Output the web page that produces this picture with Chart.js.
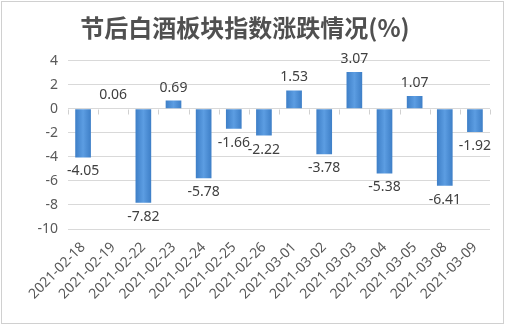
<!DOCTYPE html>
<html>
<head>
<meta charset="utf-8">
<script src="https://cdn.jsdelivr.net/npm/chart.js@4"></script>
<style>
  html, body { margin: 0; padding: 0; background: #fff; }
</style>
</head>
<body>
<canvas id="bar-chart" width="505" height="325"></canvas>
<script>
var dates = ['2021-02-18', '2021-02-19', '2021-02-22', '2021-02-23', '2021-02-24', '2021-02-25', '2021-02-26',
             '2021-03-01', '2021-03-02', '2021-03-03', '2021-03-04', '2021-03-05', '2021-03-08', '2021-03-09'];
var changes = [-4.05, 0.06, -7.82, 0.69, -5.78, -1.66, -2.22, 1.53, -3.78, 3.07, -5.38, 1.07, -6.41, -1.92];
var yTicks = [4, 2, 0, -2, -4, -6, -8, -10];

// sfondo bianco + cornice grigia
var frame = {
    id: 'frame',
    beforeDraw: function(chart) {
        var c = chart.ctx;
        c.save();
        c.fillStyle = '#fff';
        c.fillRect(0, 0, chart.width, chart.height);
        c.strokeStyle = '#d0d0d0';
        c.lineWidth = 1;
        c.strokeRect(1.5, 1.5, chart.width - 3, chart.height - 3);
        c.restore();
    }
};

// tacche sull'asse dello zero, tra una categoria e l'altra
var zeroTicks = {
    id: 'zeroTicks',
    beforeDatasetsDraw: function(chart) {
        var c = chart.ctx;
        var xs = chart.scales.x;
        var y0 = Math.round(chart.scales.y.getPixelForValue(0)) + 0.5;
        var step = (xs.right - xs.left) / dates.length;
        c.save();
        c.strokeStyle = '#d0d0d0';
        c.lineWidth = 1;
        c.beginPath();
        for (var i = 0; i <= dates.length; i++) {
            var x = Math.round(xs.left + i * step) + 0.5;
            c.moveTo(x, y0);
            c.lineTo(x, y0 + 5);
        }
        c.stroke();
        c.restore();
    }
};

// etichette dei valori sopra/sotto le barre
var valueLabels = {
    id: 'valueLabels',
    afterDatasetsDraw: function(chart) {
        var c = chart.ctx;
        var meta = chart.getDatasetMeta(0);
        c.save();
        c.font = '14px "Noto Sans", sans-serif';
        c.fillStyle = '#404040';
        c.textAlign = 'center';
        meta.data.forEach(function(bar, i) {
            var v = changes[i];
            if (v >= 0) {
                c.textBaseline = 'bottom';
                c.fillText(v.toFixed(2), bar.x, bar.y - 6);
            } else {
                c.textBaseline = 'top';
                c.fillText(v.toFixed(2), bar.x, bar.y + 7);
            }
        });
        c.restore();
    }
};

var ctx = document.getElementById('bar-chart');
var chart = new Chart(ctx, {
    type: 'bar',
    data: {
        labels: dates,
        datasets: [{
            label: '涨跌幅',
            data: changes,
            backgroundColor: function(context) {
                var ch = context.chart;
                var xs = ch.scales && ch.scales.x;
                if (!ch.chartArea || !xs) return '#4a8fd6';
                var cx = xs.getPixelForValue(context.dataIndex);
                if (!isFinite(cx)) return '#4a8fd6';
                var w = 15;
                var g = ch.ctx.createLinearGradient(cx - w / 2, 0, cx + w / 2, 0);
                g.addColorStop(0, '#3f80c8');
                g.addColorStop(0.5, '#5c9de2');
                g.addColorStop(1, '#3f80c8');
                return g;
            },
            borderWidth: 0,
            barPercentage: 0.52,
            categoryPercentage: 1.0
        }]
    },
    options: {
        responsive: false,
        animation: false,
        devicePixelRatio: 1,
        layout: { padding: { left: 0, right: 15, top: 0, bottom: 0 } },
        plugins: {
            legend: { display: false },
            tooltip: { enabled: false },
            title: {
                display: true,
                text: '节后白酒板块指数涨跌情况(%)',
                color: '#505050',
                font: { family: '"Noto Sans CJK SC", sans-serif', size: 24, weight: 'bold' },
                padding: { top: 13, bottom: 19 }
            }
        },
        scales: {
            x: {
                grid: { display: false },
                border: { display: false },
                ticks: {
                    color: '#595959',
                    font: { family: '"Noto Sans", sans-serif', size: 14 },
                    minRotation: 45,
                    maxRotation: 45,
                    padding: 2
                },
                afterFit: function(scale) { scale.height = 96; }
            },
            y: {
                min: -10,
                max: 4,
                afterBuildTicks: function(scale) {
                    scale.ticks = yTicks.map(function(v) { return { value: v }; });
                },
                grid: { color: '#d9d9d9', drawTicks: false },
                border: { display: false },
                ticks: {
                    color: '#595959',
                    font: { family: '"Noto Sans", sans-serif', size: 14 },
                    padding: 10
                },
                afterFit: function(scale) { scale.width = 68; }
            }
        }
    },
    plugins: [frame, zeroTicks, valueLabels]
});
</script>
</body>
</html>
